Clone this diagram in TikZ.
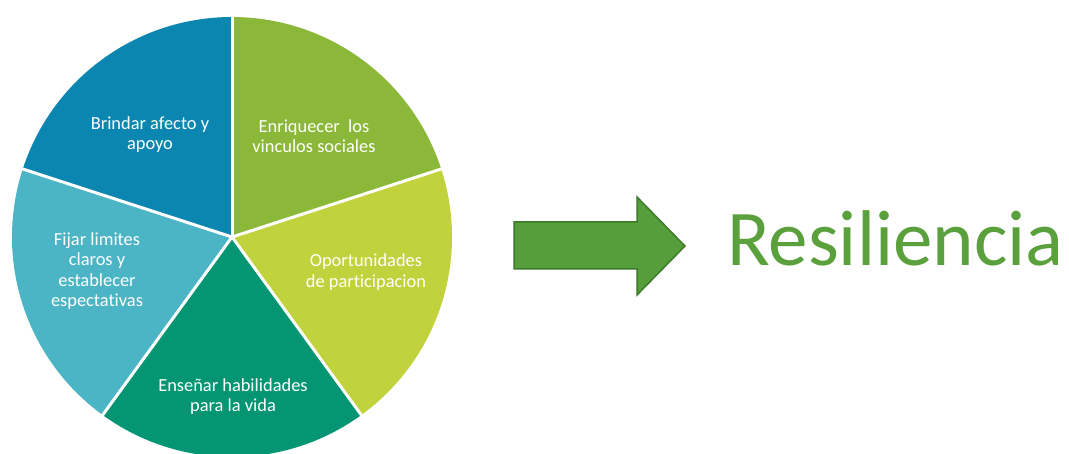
\documentclass[tikz,border=0pt]{standalone}
\usepackage{fontspec}
\setmainfont{Carlito}[RawFeature=-liga]
\usepackage{tikz}
\usetikzlibrary{arrows.meta}
\definecolor{afecto}{HTML}{0B86B1}
\definecolor{vinculos}{HTML}{8CB83A}
\definecolor{oportun}{HTML}{C2D23C}
\definecolor{ensenar}{HTML}{049572}
\definecolor{limites}{HTML}{4BB4C5}
\definecolor{flecha}{HTML}{559E3B}
\definecolor{flechaborde}{HTML}{3D7A2A}
\definecolor{resil}{HTML}{5AA03C}
\begin{document}
\begin{tikzpicture}[x=1pt, y=1pt,
	slicetext/.style={text=white, align=center, font=\fontsize{18.4}{20.5}\selectfont}]
	\useasboundingbox (0,0) rectangle (1069,453);
	\coordinate (c) at (232,216);
	% pie slices
	\fill[vinculos] (c) -- ++(90:220) arc (90:18:220) -- cycle;
	\fill[oportun] (c) -- ++(18:220) arc (18:-54:220) -- cycle;
	\fill[ensenar] (c) -- ++(-54:220) arc (-54:-126:220) -- cycle;
	\fill[limites] (c) -- ++(-126:220) arc (-126:-198:220) -- cycle;
	\fill[afecto] (c) -- ++(162:220) arc (162:90:220) -- cycle;
	\foreach \a in {90,18,-54,-126,162}
		\draw[white, line width=3pt] (c) -- ++(\a:221);
	\node[slicetext] (afectotxt) at (150,318.5) {Brindar afecto y\\apoyo};
	\node[slicetext] (vinculostxt) at (314,317) {Enriquecer\ \ los\\vinculos sociales};
	\node[slicetext] (oportuntxt) at (366,181) {Oportunidades\\de participacion};
	\node[slicetext] (ensenartxt) at (233,56.5) {Enseñar habilidades\\para la vida};
	\node[slicetext] (limitestxt) at (97,182) {Fijar limites\\claros y\\establecer\\espectativas};
	% block arrow
	\draw[flechaborde, fill=flecha, line width=1.5pt, line join=miter]
		(514,231) -- (637,231) -- (637,256) -- (685,207) -- (637,158) -- (637,184) -- (514,184) -- cycle;
	\node[anchor=base west, inner sep=0, text=resil, font=\fontsize{79}{90}\selectfont] (resiliencia) at (727,187) {Resiliencia};
\end{tikzpicture}
\end{document}
